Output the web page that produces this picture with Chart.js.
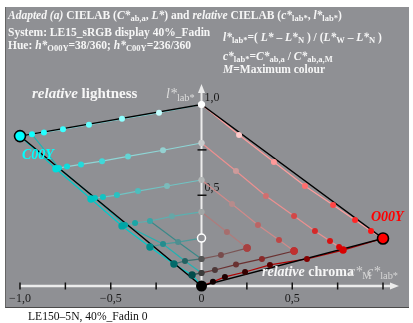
<!DOCTYPE html>
<html>
<head>
<meta charset="utf-8">
<script src="https://cdn.jsdelivr.net/npm/chart.js@4.4.1/dist/chart.umd.min.js"></script>
<style>
  body { margin:0; background:#fff; width:413px; height:323px; position:relative; overflow:hidden;
         font-family:"Liberation Serif","DejaVu Serif",serif; }
  #panel { position:absolute; left:5px; top:7px; width:403px; height:300px; background:#8f9094;
           border-left:1px solid #666; border-bottom:1px solid #4a4a4a; }
  canvas { position:absolute; left:0; top:0; }
  .t { position:absolute; white-space:nowrap; color:#f6f6f6; font-weight:bold; font-size:11.5px; line-height:1; }
  .big { font-size:15px; }
  sub { font-size:0.74em; vertical-align:-0.28em; line-height:0; }
</style>
</head>
<body>
<div id="panel"></div>
<canvas id="hue" width="413" height="323"></canvas>

<div class="t" style="left:8px;top:10px"><i>Adapted (a)</i> CIELAB (<i>C*</i><sub>ab,a</sub>, <i>L*</i>) and <i>relative</i> CIELAB (<i>c*</i><sub>lab*</sub>, <i>l*</i><sub>lab*</sub>)</div>
<div class="t" style="left:8px;top:27px">System: LE15_sRGB display 40%_Fadin</div>
<div class="t" style="left:8px;top:40px">Hue: <i>h*</i><sub>O00Y</sub>=38/360; <i>h*</i><sub>C00Y</sub>=236/360</div>
<div class="t" style="left:223px;top:32px"><i>l*</i><sub>lab*</sub>=( <i>L*</i> – <i>L*</i><sub>N</sub> ) / (<i>L*</i><sub>W</sub> – <i>L*</i><sub>N</sub> )</div>
<div class="t" style="left:223px;top:51px"><i>c*</i><sub>lab*</sub>=<i>C*</i><sub>ab,a</sub> / <i>C*</i><sub>ab,a,M</sub></div>
<div class="t" style="left:223px;top:64px"><i>M</i>=Maximum colour</div>

<div class="t big" style="left:32px;top:86px"><i>relative</i> lightness</div>
<div class="t" style="left:166px;top:87px;font-size:14px;color:#dcdcdc;font-weight:normal"><i>l*</i><sub>lab*</sub></div>
<div class="t" style="left:22px;top:148px;font-size:14px;color:#00ffff"><i>C00Y</i></div>
<div class="t" style="left:371px;top:210px;font-size:14px;color:#ff0000"><i>O00Y</i></div>
<div class="t big" style="left:262px;top:265px;font-size:14px"><i>relative</i> chroma</div>
<div class="t big" style="left:349px;top:265px;color:#d6d6d6;font-weight:normal;font-size:14px"><i>c*</i><sub>M</sub></div>
<div class="t big" style="left:367px;top:265px;color:#d6d6d6;font-weight:normal;font-size:14px"><i>c*</i><sub>lab*</sub></div>

<div style="position:absolute;left:28px;top:311px;font-size:11.6px;color:#111;line-height:1">LE150–5N, 40%_Fadin 0</div>

<script>
// axis ticks and labels
const xTicks = [-1, -0.75, -0.5, -0.25, 0, 0.25, 0.5, 0.75, 1];
const xLabelValues = [-1, -0.5, 0, 0.5];
const xLabels = ["−1,0", "−0,5", "0", "0,5"];
const yTicks = [0.5, 0.75];
const yLabelValues = [1, 0.5];
const yLabels = ["1,0", "0,5"];

// left half: C00Y side (negative relative chroma)
const leftRowA = [[0,1.0],[-0.234,0.955],[-0.438,0.921],[-0.620,0.889],[-0.763,0.864],[-0.868,0.846],[-0.934,0.836],[-1.0,0.826]];
const leftRowB = [[0,0.788],[-0.212,0.748],[-0.405,0.714],[-0.548,0.688],[-0.664,0.670],[-0.741,0.658],[-0.785,0.650],[-0.802,0.646]];
const leftRowC = [[0,0.584],[-0.190,0.551],[-0.350,0.523],[-0.466,0.501],[-0.543,0.490],[-0.587,0.485],[-0.609,0.479]];
const leftRowD = [[0,0.408],[-0.163,0.384],[-0.284,0.358],[-0.366,0.347],[-0.421,0.336],[-0.438,0.331]];
const leftRowE = [[0,0.264],[-0.129,0.242],[-0.212,0.231],[-0.284,0.215]];
const leftRowF = [[0,0.149],[-0.091,0.138],[-0.152,0.121]];
const leftRowG = [[0,0.072],[-0.052,0.061]];
const leftEdge = [[-1.0,0.826],[-0.802,0.646],[-0.609,0.479],[-0.438,0.331],[-0.284,0.215],[-0.152,0.121],[-0.052,0.061],[0,0]];
const leftInner = [[-0.934,0.836],[-0.785,0.650],[-0.587,0.485],[-0.421,0.336],[-0.212,0.231],[-0.091,0.138],[0,0.072]];
const leftDiag = [[0,0.149],[-0.129,0.242],[-0.284,0.358]];

// right half: O00Y side
const rightRowA = [[0,1.0],[0.207,0.832],[0.399,0.683],[0.570,0.551],[0.725,0.446],[0.846,0.364],[0.934,0.303],[1.0,0.262]];
const rightRowB = [[0,0.788],[0.190,0.634],[0.355,0.496],[0.510,0.386],[0.625,0.303],[0.708,0.248],[0.758,0.215],[0.780,0.198]];
const rightRowC = [[0,0.584],[0.168,0.452],[0.311,0.336],[0.427,0.253],[0.510,0.193]];
const rightRowD = [[0,0.408],[0.140,0.298],[0.251,0.209]];
const rightRowF = [[0,0.149],[0.107,0.171],[0.251,0.209]];
const rightRowG = [[0,0.072],[0.074,0.088],[0.190,0.118],[0.333,0.149],[0.510,0.193]];
const rightEdge = [[0,0],[0.063,0.023],[0.129,0.050],[0.240,0.077],[0.377,0.116],[0.581,0.149],[0.780,0.198],[1.0,0.262]];

// triangle white - maximum colours - black
const outline = [[-1.0,0.826],[0,1.0],[1.0,0.262],[0,0],[-1.0,0.826]];
const whitePoint = [0,1.0];
const blackPoint = [0,0];
const openPoint = [0,0.264];
const c00y = [-1.0,0.826];
const o00y = [1.0,0.262];

/* ---------- HELPERS ---------- */
const toXY = arr => arr.map(p => ({ x: p[0], y: p[1] }));

function mix(a, b, t) {
  const pa = parseInt(a.slice(1), 16), pb = parseInt(b.slice(1), 16);
  const c = [16, 8, 0].map(s => {
    const u = (pa >> s) & 255, v = (pb >> s) & 255;
    return Math.round(u + (v - u) * t);
  });
  return `rgb(${c[0]},${c[1]},${c[2]})`;
}

// one entry per row: points, start colour (gray), end colour, line colour
const rows = [
  { d: leftRowA,  c0: "#ffffff", c1: "#00ffff", line: "#80e4e4" },
  { d: leftRowB,  c0: "#c9cccc", c1: "#00dede", line: "#8ed6d6" },
  { d: leftRowC,  c0: "#b3b7b7", c1: "#00c4c4", line: "#70c4c4" },
  { d: leftRowD,  c0: "#a3a7a7", c1: "#00a6a6", line: "#5cb0b0" },
  { d: leftRowE,  c0: "#8f9094", c1: "#008c8c", line: "#4a9a9a", skipFirst: true },
  { d: leftRowF,  c0: "#555555", c1: "#006a6a", line: "#3e7070" },
  { d: leftRowG,  c0: "#3c3c3c", c1: "#004c4c", line: "#2a5050" },
  { d: rightRowA, c0: "#ffffff", c1: "#ff0000", line: "#ff9c9c" },
  { d: rightRowB, c0: "#c9cccc", c1: "#d80000", line: "#ec9090" },
  { d: rightRowC, c0: "#b3b7b7", c1: "#c03030", line: "#d08a8a" },
  { d: rightRowD, c0: "#a3a7a7", c1: "#a84040", line: "#b07c7c" },
  { d: rightRowF, c0: "#555555", c1: "#a84040", line: "#7a5555" },
  { d: rightRowG, c0: "#3c3c3c", c1: "#b42020", line: "#6a3030" },
  { d: rightEdge, c0: "#000000", c1: "#e00000", line: "#b00000" }
];

function pointSet(r) {
  const xEnd = Math.abs(r.d[r.d.length - 1][0]) || 1;
  return {
    data: toXY(r.d), showLine: false, clip: false,
    pointRadius: r.d.map((p, i) => (i === 0 && r.skipFirst) ? 0 : (i === r.d.length - 1 ? 3.7 : 3)),
    pointBackgroundColor: r.d.map(p => mix(r.c0, r.c1, Math.abs(p[0]) / xEnd)),
    pointBorderWidth: 0
  };
}

function lineSet(arr, color, width) {
  return { data: toXY(arr), showLine: true, clip: false, pointRadius: 0,
           borderColor: color, borderWidth: width, fill: false };
}

const specials = {
  data: toXY([whitePoint, blackPoint, openPoint, c00y, o00y]),
  showLine: false, clip: false,
  pointRadius: [3.6, 5.5, 4, 5.5, 5.5],
  pointBackgroundColor: ["#ffffff", "#000000", "#8f9094", "#00ffff", "#ff0000"],
  pointBorderColor: ["#ffffff", "#000000", "#ffffff", "#000000", "#000000"],
  pointBorderWidth: [0, 0, 1.5, 1.6, 1.6]
};

// first dataset is drawn on top
const datasets = [specials]
  .concat(rows.map(pointSet))
  .concat([lineSet(outline, "#000000", 1.4)])
  .concat(rows.map(r => lineSet(r.d, r.line, 1.2)))
  .concat([lineSet(leftEdge, "#00caca", 1.2), lineSet(leftInner, "#22b2b2", 1.2), lineSet(leftDiag, "#3a8888", 1.2)]);

/* ---------- AXES ---------- */
const axisPlugin = {
  id: "hueAxes",
  beforeDatasetsDraw(chart) {
    const { ctx, scales: { x, y } } = chart;
    const x0 = x.getPixelForValue(0), y0 = y.getPixelForValue(0);
    const xs = x.getPixelForValue(-1), xe = x.getPixelForValue(1.088);
    const ye = y.getPixelForValue(1.113);
    ctx.save();
    ctx.strokeStyle = "#ececec"; ctx.fillStyle = "#ececec";
    ctx.lineWidth = 2.5;
    ctx.beginPath(); ctx.moveTo(xs, y0); ctx.lineTo(xe - 6, y0); ctx.stroke();
    ctx.beginPath(); ctx.moveTo(xe, y0); ctx.lineTo(xe - 9, y0 - 3.5); ctx.lineTo(xe - 9, y0 + 3.5); ctx.closePath(); ctx.fill();
    ctx.lineWidth = 2;
    ctx.beginPath(); ctx.moveTo(x0, y0); ctx.lineTo(x0, ye + 6); ctx.stroke();
    ctx.beginPath(); ctx.moveTo(x0, ye); ctx.lineTo(x0 - 3.5, ye + 9); ctx.lineTo(x0 + 3.5, ye + 9); ctx.closePath(); ctx.fill();

    ctx.strokeStyle = "#111"; ctx.lineWidth = 1.5;
    xTicks.forEach(v => {
      const px = x.getPixelForValue(v);
      ctx.beginPath(); ctx.moveTo(px, y0 - 3.5); ctx.lineTo(px, y0 + 3.5); ctx.stroke();
    });
    yTicks.forEach(v => {
      const py = y.getPixelForValue(v);
      ctx.beginPath(); ctx.moveTo(x0 - 4, py); ctx.lineTo(x0 + 5, py); ctx.stroke();
    });

    ctx.fillStyle = "#1a1a1a";
    ctx.font = '12px "Liberation Serif"';
    ctx.textAlign = "center"; ctx.textBaseline = "alphabetic";
    xLabelValues.forEach((v, i) => ctx.fillText(xLabels[i], x.getPixelForValue(v), y0 + 16));
    ctx.textAlign = "left";
    yLabelValues.forEach((v, i) => ctx.fillText(yLabels[i], x0 + 3, y.getPixelForValue(v) - 4));
    ctx.restore();
  }
};

new Chart(document.getElementById("hue").getContext("2d"), {
  type: "scatter",
  data: { datasets },
  options: {
    responsive: false,
    animation: false,
    events: [],
    layout: { autoPadding: false, padding: { left: 1.85, right: 11.85, top: 68.2, bottom: 18.85 } },
    scales: {
      x: { type: "linear", min: -1.1, max: 1.1, display: false },
      y: { type: "linear", min: -0.1, max: 1.2, display: false }
    },
    elements: { line: { tension: 0 } },
    plugins: { legend: { display: false }, tooltip: { enabled: false } }
  },
  plugins: [axisPlugin]
});
</script>
</body>
</html>
